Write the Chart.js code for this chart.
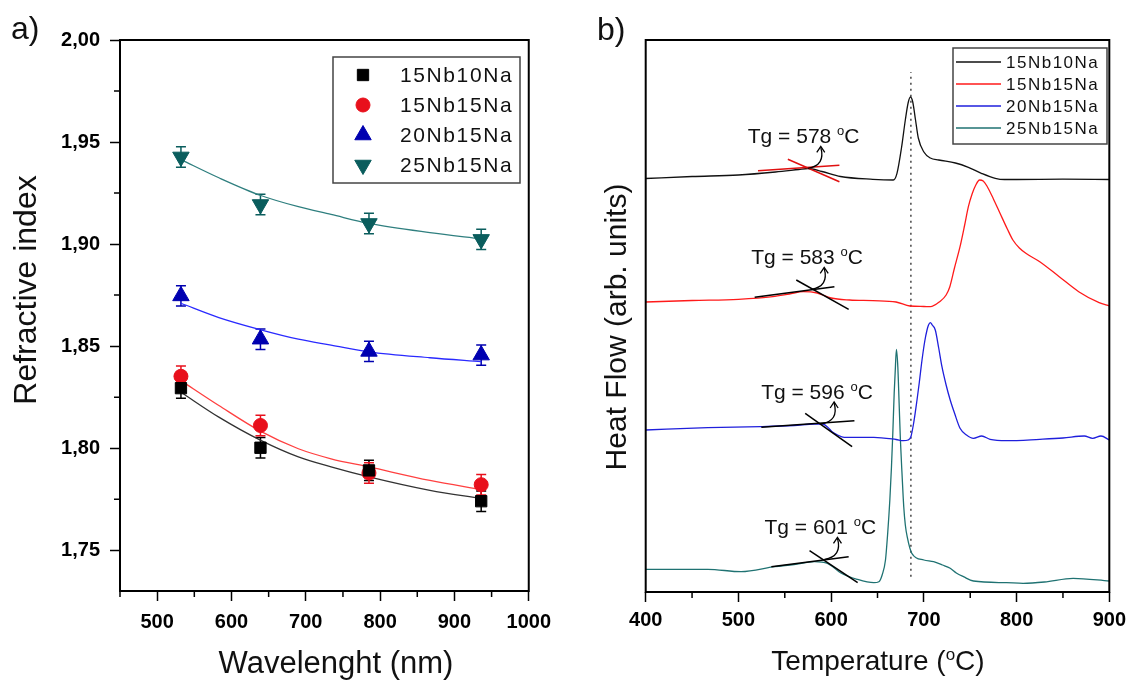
<!DOCTYPE html>
<html><head><meta charset="utf-8">
<script src="https://cdn.jsdelivr.net/npm/chart.js@4.4.1/dist/chart.umd.min.js"></script>
<style>
html,body{margin:0;padding:0;background:#fff;}
#wrap{position:relative;width:1132px;height:685px;overflow:hidden;background:#fff;}
#c1{position:absolute;left:0;top:0;}
#c2{position:absolute;left:560px;top:0;}
</style></head><body>
<div id="wrap"><canvas id="c1" width="560" height="685"></canvas><canvas id="c2" width="572" height="685"></canvas></div>
<script>
// ---------- data: panel a) refractive index ----------
const seriesNames = ['15Nb10Na', '15Nb15Na', '20Nb15Na', '25Nb15Na'];
const wavelengths = [532, 639, 785, 936];
const ri15Nb10Na = [1.8294, 1.8002, 1.7891, 1.7740];
const ri15Nb15Na = [1.8352, 1.8111, 1.7878, 1.7821];
const ri20Nb15Na = [1.8746, 1.8534, 1.8474, 1.8456];
const ri25Nb15Na = [1.9427, 1.9194, 1.9101, 1.9023];
const riError = [0.005, 0.005, 0.005, 0.005];
const fitWavelengths = [532, 583, 639.5, 690, 734, 785, 867, 936];
const fit15Nb10Na = [1.8274, 1.8152, 1.8038, 1.7957, 1.7908, 1.7859, 1.7793, 1.7753];
const fit15Nb15Na = [1.8331, 1.8209, 1.8082, 1.7997, 1.7948, 1.7908, 1.7842, 1.7797];
const fit20Nb15Na = [1.8710, 1.8640, 1.8580, 1.8534, 1.8505, 1.8472, 1.8443, 1.8424];
const fit25Nb15Na = [1.9414, 1.9325, 1.9238, 1.9183, 1.9145, 1.9101, 1.9056, 1.9026];
const xTicksA = [500, 600, 700, 800, 900, 1000];
const xMinorA = [450, 550, 650, 750, 850, 950];
const yTicksA = [1.75, 1.80, 1.85, 1.90, 1.95, 2.00];
const yMinorA = [1.775, 1.825, 1.875, 1.925, 1.975];

// ---------- data: panel b) DSC ----------
const t15Nb10Na = [400, 450, 500, 540, 565, 575, 590, 610, 645, 667, 671, 676, 680, 683, 685.5, 688, 691, 694, 700, 707, 716, 734, 748, 762, 777, 787, 800, 850, 900];
const h15Nb10Na = [414.5, 416.5, 418, 421, 423.5, 424.5, 421.5, 416.5, 413.7, 413, 419.7, 446, 473, 490, 496, 491, 473, 455, 441, 435, 433, 430, 425.7, 419.7, 414.7, 413.5, 413.5, 413.8, 413.5];
const t15Nb15Na = [400, 450, 500, 537, 555, 570, 585, 600, 620, 645, 670, 685, 700, 707, 717, 724, 728, 733, 739, 744, 748, 752, 756, 760, 764, 768, 775, 782, 790, 796, 803, 810, 825, 846, 867, 889, 900];
const h15Nb15Na = [291, 292.5, 293.7, 296.3, 299, 301.3, 300, 295, 293, 292.3, 291, 287, 286.5, 286.3, 291.3, 298, 306.3, 325, 346.3, 368, 386.3, 399, 408, 413, 412, 407, 394, 380, 364, 353, 345, 339.7, 331.3, 316.3, 301.3, 290.3, 287];
const t20Nb15Na = [400, 467, 524, 560, 582, 591, 596, 601, 607, 614, 646, 670, 678, 683, 686, 689, 692.6, 695, 698, 701, 703.4, 705, 707, 709, 712.3, 716, 719.5, 724, 728.4, 733, 739, 746, 753.5, 762.4, 771.4, 789, 825, 850, 873, 882, 891, 900];
const h20Nb15Na = [163, 165.3, 166.3, 167.5, 169, 169, 166, 161.3, 158, 155.7, 155.7, 153.5, 152.3, 153, 156.3, 170, 193, 210, 233, 252, 263, 268, 270.3, 268, 263, 245, 226.3, 208, 193, 180, 164.7, 158, 154.7, 157, 153.7, 152.3, 153.7, 155, 157, 154.7, 157, 153];
const t25Nb15Na = [400, 467, 503, 539, 560, 582, 596, 610, 628, 646, 651.5, 655, 658.6, 661, 663.3, 665, 666.5, 668, 669, 670.4, 671.9, 673.3, 674.7, 676.5, 678.3, 680, 682, 687, 700, 710.5, 720, 728.4, 735, 742.7, 753.5, 789, 807, 830, 861, 900];
const h25Nb15Na = [23.7, 23.7, 21.3, 26.3, 28.5, 31.3, 29.7, 20.3, 13.7, 10.3, 11.3, 18, 33, 60, 93, 125, 159.7, 200, 219.7, 243.7, 226.3, 190, 153, 118, 86.3, 68, 56.3, 39.7, 33, 31.3, 28, 24.7, 20, 16.3, 12, 10.3, 9.7, 11, 14.7, 12];
const tgValues = [578, 583, 596, 601];
const tgCrossT = [574.8, 578.5, 589.2, 592.8];
const tgCrossH = [424.7, 303.7, 169, 33.7];
const tangentT = [[521.1, 608.9], [553.3, 608.9], [517.5, 603.5], [562.4, 618.9], [524.7, 625.1], [572, 622.6], [535.5, 618.9], [576.7, 628.6]];
const tangentH = [[422.3, 427.7], [433.7, 411.3], [295.7, 306.3], [313, 283.7], [165.7, 172.3], [179.7, 146.3], [26.3, 36.3], [42.3, 10.3]];
const dottedT = [686, 686];
const dottedH = [16.3, 521];
const xTicksB = [400, 500, 600, 700, 800, 900];
const xMinorB = [450, 550, 650, 750, 850];

// ---------- helpers ----------
const FONT = '"Liberation Sans", Arial, sans-serif';
Chart.defaults.font.family = FONT;
const zip = (xs, ys) => xs.map((x, i) => ({x: x, y: ys[i]}));

function drawMarker(ctx, style, x, y, r, rot, color) {
  ctx.fillStyle = color; ctx.strokeStyle = color; ctx.lineWidth = 1;
  ctx.beginPath();
  if (style === 'rect') { const s = r * Math.SQRT1_2; ctx.rect(x - s, y - s, 2 * s, 2 * s); }
  else if (style === 'circle') { ctx.arc(x, y, r, 0, 2 * Math.PI); }
  else {
    let a = (rot || 0) * Math.PI / 180;
    ctx.moveTo(x + Math.sin(a) * r, y - Math.cos(a) * r);
    a += 2 * Math.PI / 3; ctx.lineTo(x + Math.sin(a) * r, y - Math.cos(a) * r);
    a += 2 * Math.PI / 3; ctx.lineTo(x + Math.sin(a) * r, y - Math.cos(a) * r);
    ctx.closePath();
  }
  ctx.fill(); ctx.stroke();
}

// rich text with superscripts: parts [{t, size, sup}]
function drawRich(ctx, x, y, parts, align) {
  let w = 0;
  parts.forEach(p => { ctx.font = p.size + 'px ' + FONT; w += ctx.measureText(p.t).width; });
  let cx = align === 'center' ? x - w / 2 : x;
  parts.forEach(p => {
    ctx.font = p.size + 'px ' + FONT;
    ctx.fillText(p.t, cx, y + (p.sup ? -p.sup : 0));
    cx += ctx.measureText(p.t).width;
  });
}

function framePlugin() {
  return { id: 'frame', afterDraw(chart) {
    const a = chart.chartArea, ctx = chart.ctx;
    ctx.save(); ctx.strokeStyle = '#000'; ctx.lineWidth = 2;
    ctx.strokeRect(a.left, a.top, a.right - a.left, a.bottom - a.top);
    ctx.restore();
  }};
}
function minorPlugin(xMinor, yMinor) {
  return { id: 'minor', afterDraw(chart) {
    const ctx = chart.ctx, a = chart.chartArea, xs = chart.scales.x, ys = chart.scales.y;
    ctx.save(); ctx.strokeStyle = '#000'; ctx.lineWidth = 1.5; ctx.beginPath();
    xMinor.forEach(v => { const p = xs.getPixelForValue(v); ctx.moveTo(p, a.bottom); ctx.lineTo(p, a.bottom + 6); });
    if (yMinor) yMinor.forEach(v => { const p = ys.getPixelForValue(v); ctx.moveTo(a.left, p); ctx.lineTo(a.left - 6, p); });
    ctx.stroke(); ctx.restore();
  }};
}
const errorBars = { id: 'errorBars', beforeDatasetsDraw(chart) {
  const ctx = chart.ctx, ys = chart.scales.y;
  chart.data.datasets.forEach((ds, i) => {
    if (!ds.errors) return;
    const meta = chart.getDatasetMeta(i);
    ctx.save(); ctx.strokeStyle = ds.borderColor; ctx.lineWidth = 1.5;
    meta.data.forEach((pt, j) => {
      const v = ds.data[j].y, e = ds.errors[j];
      const y1 = ys.getPixelForValue(v + e), y2 = ys.getPixelForValue(v - e);
      ctx.beginPath();
      ctx.moveTo(pt.x, y1); ctx.lineTo(pt.x, y2);
      ctx.moveTo(pt.x - 5, y1); ctx.lineTo(pt.x + 5, y1);
      ctx.moveTo(pt.x - 5, y2); ctx.lineTo(pt.x + 5, y2);
      ctx.stroke();
    });
    ctx.restore();
  });
}};

function xAxis(min, max, ticks, height, pad) {
  return { type: 'linear', min: min, max: max,
    afterBuildTicks: s => { s.ticks = ticks.map(v => ({value: v})); },
    afterFit: s => { s.height = height; },
    ticks: { padding: pad, autoSkip: false, maxRotation: 0, color: '#000', font: {size: 20, weight: 'bold'}, callback: v => String(v) },
    grid: { display: true, drawOnChartArea: false, drawTicks: true, tickLength: 10, tickWidth: 1.5, tickColor: '#000' },
    border: { display: false }
  };
}

// ---------- panel a ----------
const colA = ['#000000', '#e8101c', '#0000b0', '#0a5d5d'];
const fitColA = ['#333333', '#ff4040', '#2a2aff', '#2f7f7f'];
const styleA = [['rect', 8, 0], ['circle', 7, 0], ['triangle', 9.5, 0], ['triangle', 9.5, 180]];
const riSeries = [ri15Nb10Na, ri15Nb15Na, ri20Nb15Na, ri25Nb15Na];
const fitSeries = [fit15Nb10Na, fit15Nb15Na, fit20Nb15Na, fit25Nb15Na];

const dsA = [];
riSeries.forEach((s, i) => dsA.push({
  label: seriesNames[i], data: zip(wavelengths, s), showLine: false,
  pointStyle: styleA[i][0], pointRadius: styleA[i][1], pointRotation: styleA[i][2],
  backgroundColor: colA[i], borderColor: colA[i], borderWidth: 1, errors: riError, order: 0
}));
fitSeries.forEach((s, i) => dsA.push({
  label: 'fit ' + seriesNames[i], data: zip(fitWavelengths, s), pointRadius: 0,
  borderColor: fitColA[i], borderWidth: 1.3, cubicInterpolationMode: 'monotone', fill: false, order: 1
}));

const legendA = { id: 'legendA', afterDraw(chart) {
  const ctx = chart.ctx;
  ctx.save();
  ctx.strokeStyle = '#444'; ctx.lineWidth = 1.5; ctx.strokeRect(333, 57, 187, 126);
  const rows = [75, 105, 135, 165];
  rows.forEach((y, i) => {
    drawMarker(ctx, styleA[i][0], 363, y, styleA[i][1], styleA[i][2], colA[i]);
    ctx.fillStyle = '#111'; ctx.font = '21px ' + FONT; ctx.textBaseline = 'middle'; ctx.textAlign = 'left';
    ctx.letterSpacing = '1.6px';
    ctx.fillText(seriesNames[i], 400, y + 1);
    ctx.letterSpacing = '0px';
  });
  ctx.restore();
}};
const titlesA = { id: 'titlesA', afterDraw(chart) {
  const ctx = chart.ctx;
  ctx.save(); ctx.fillStyle = '#111'; ctx.textBaseline = 'middle';
  ctx.font = '32px ' + FONT; ctx.textAlign = 'left'; ctx.fillText('a)', 11, 30);
  ctx.textAlign = 'center'; ctx.font = '31px ' + FONT; ctx.fillText('Wavelenght (nm)', 336, 664);
  ctx.translate(27, 290); ctx.rotate(-Math.PI / 2); ctx.font = '32px ' + FONT; ctx.fillText('Refractive index', 0, 0);
  ctx.restore();
}};

new Chart(document.getElementById('c1'), {
  type: 'line',
  data: { datasets: dsA },
  options: {
    responsive: false, animation: false, devicePixelRatio: 1,
    layout: { padding: { left: 0, right: 26.7, top: 40, bottom: 0 } },
    plugins: { legend: { display: false }, tooltip: { enabled: false } },
    scales: {
      x: xAxis(450, 1000, xTicksA, 94, 9),
      y: { type: 'linear', min: 1.73, max: 2.0,
        afterBuildTicks: s => { s.ticks = yTicksA.map(v => ({value: v})); },
        afterFit: s => { s.width = 120; },
        ticks: { padding: 10, color: '#000', font: {size: 20, weight: 'bold'}, callback: v => v.toFixed(2).replace('.', ',') },
        grid: { display: true, drawOnChartArea: false, drawTicks: true, tickLength: 10, tickWidth: 1.5, tickColor: '#000' },
        border: { display: false }
      }
    }
  },
  plugins: [errorBars, framePlugin(), minorPlugin(xMinorA, yMinorA), legendA, titlesA]
});

// ---------- panel b ----------
const colB = ['#111111', '#ff1a1a', '#1f1fdc', '#1f7272'];
const tSeries = [t15Nb10Na, t15Nb15Na, t20Nb15Na, t25Nb15Na];
const hSeries = [h15Nb10Na, h15Nb15Na, h20Nb15Na, h25Nb15Na];
const dsB = [];
tSeries.forEach((t, i) => dsB.push({
  label: seriesNames[i], data: zip(t, hSeries[i]), pointRadius: 0,
  borderColor: colB[i], borderWidth: 1.3, cubicInterpolationMode: 'monotone', fill: false, order: 1
}));
tangentT.forEach((t, i) => dsB.push({
  label: 'tangent', data: zip(t, tangentH[i]), pointRadius: 0,
  borderColor: i < 2 ? '#e01010' : '#000000', borderWidth: 1.5, fill: false, order: 0
}));
dsB.push({ label: 'Tx', data: zip(dottedT, dottedH), pointRadius: 0, borderColor: '#444',
  borderWidth: 1.5, borderDash: [2, 4], fill: false, order: 2 });

const legendB = { id: 'legendB', afterDraw(chart) {
  const ctx = chart.ctx;
  ctx.save();
  ctx.strokeStyle = '#444'; ctx.lineWidth = 1.5; ctx.strokeRect(393, 48, 154, 96);
  const rows = [62, 84, 106, 128];
  rows.forEach((y, i) => {
    ctx.strokeStyle = colB[i]; ctx.lineWidth = 1.3;
    ctx.beginPath(); ctx.moveTo(396, y); ctx.lineTo(441, y); ctx.stroke();
    ctx.fillStyle = '#111'; ctx.font = '17px ' + FONT; ctx.textBaseline = 'middle'; ctx.textAlign = 'left';
    ctx.letterSpacing = '1.5px';
    ctx.fillText(seriesNames[i], 446, y + 1);
    ctx.letterSpacing = '0px';
  });
  ctx.restore();
}};
const tgPlugin = { id: 'tg', afterDatasetsDraw(chart) {
  const ctx = chart.ctx, xs = chart.scales.x, ys = chart.scales.y;
  ctx.save();
  tgValues.forEach((tg, i) => {
    const x0 = xs.getPixelForValue(tgCrossT[i]), y0 = ys.getPixelForValue(tgCrossH[i]);
    ctx.strokeStyle = '#000'; ctx.lineWidth = 1.3;
    ctx.beginPath(); ctx.moveTo(x0, y0); ctx.quadraticCurveTo(x0 + 18, y0 - 3, x0 + 13, y0 - 21); ctx.stroke();
    ctx.beginPath(); ctx.moveTo(x0 + 9, y0 - 16); ctx.lineTo(x0 + 13, y0 - 22); ctx.lineTo(x0 + 17, y0 - 16); ctx.stroke();
    ctx.fillStyle = '#111'; ctx.textBaseline = 'alphabetic';
    drawRich(ctx, x0 - 60, y0 - 25, [{t: 'Tg = ' + tg + ' ', size: 21}, {t: 'o', size: 13, sup: 8}, {t: 'C', size: 21}], 'left');
  });
  ctx.restore();
}};
const titlesB = { id: 'titlesB', afterDraw(chart) {
  const ctx = chart.ctx;
  ctx.save(); ctx.fillStyle = '#111';
  ctx.textBaseline = 'middle'; ctx.textAlign = 'left'; ctx.font = '32px ' + FONT; ctx.fillText('b)', 37, 31);
  ctx.textAlign = 'left'; ctx.textBaseline = 'alphabetic';
  drawRich(ctx, 318, 670, [{t: 'Temperature (', size: 28}, {t: 'o', size: 17, sup: 10}, {t: 'C)', size: 28}], 'center');
  ctx.translate(58, 327); ctx.rotate(-Math.PI / 2); ctx.textAlign = 'center'; ctx.textBaseline = 'middle';
  ctx.font = '30px ' + FONT; ctx.fillText('Heat Flow (arb. units)', 0, 0);
  ctx.restore();
}};

new Chart(document.getElementById('c2'), {
  type: 'line',
  data: { datasets: dsB },
  options: {
    responsive: false, animation: false, devicePixelRatio: 1,
    layout: { padding: { left: 85.7, right: 21.3, top: 40, bottom: 0 } },
    plugins: { legend: { display: false }, tooltip: { enabled: false } },
    scales: {
      x: xAxis(400, 900, xTicksB, 93, 6),
      y: { type: 'linear', min: 1, max: 553, display: false }
    }
  },
  plugins: [framePlugin(), minorPlugin(xMinorB, null), legendB, tgPlugin, titlesB]
});
</script>
</body></html>
